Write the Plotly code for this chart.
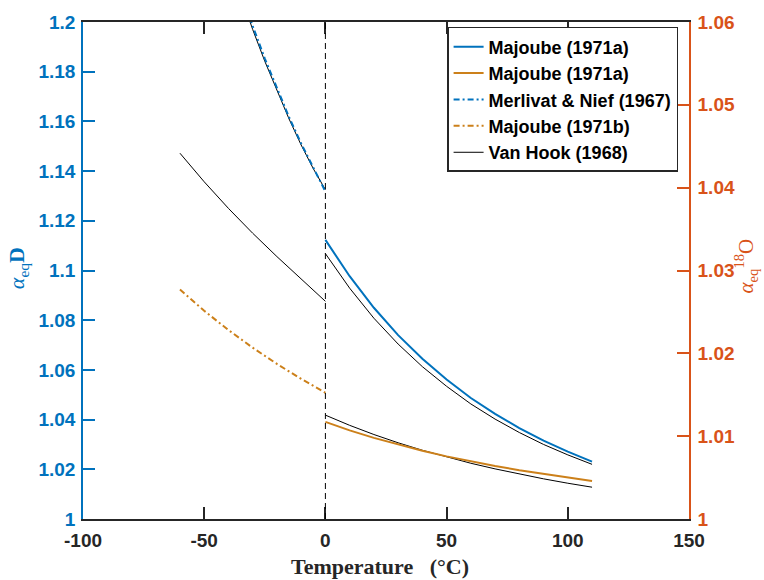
import plotly.graph_objects as go

# ---------------- data ----------------
# liquid-vapour, 0..110 °C
T_liq = [0, 10, 20, 30, 40, 50, 60, 70, 80, 90, 100, 110]
majoube_D_liq = [1.1123, 1.0977, 1.0850, 1.0740, 1.0645, 1.0561,
                 1.0487, 1.0423, 1.0366, 1.0315, 1.0271, 1.0231]
majoube_O18_liq = [1.01172, 1.01070, 1.00979, 1.00897, 1.00823, 1.00756,
                   1.00695, 1.00640, 1.00589, 1.00543, 1.00500, 1.00460]
vanhook_D_liq = [1.1068, 1.0929, 1.0808, 1.0704, 1.0613, 1.0534,
                 1.0463, 1.0402, 1.0348, 1.0300, 1.0258, 1.0220]
vanhook_O18_liq = [1.01254, 1.01131, 1.01020, 1.00920, 1.00830, 1.00748,
                   1.00673, 1.00605, 1.00542, 1.00485, 1.00432, 1.00384]

# ice-vapour
T_ice_D = [-35, -30, -25, -20, -15, -10, -5, 0]
merlivat_D_ice = [1.2125, 1.1984, 1.1853, 1.1731, 1.1617, 1.1511, 1.1412, 1.1318]
vanhook_D_ice = [1.2110, 1.1970, 1.1842, 1.1722, 1.1610, 1.1505, 1.1410, 1.1325]

T_ice = [-60, -50, -40, -30, -20, -10, 0]
majoube_O18_ice = [1.0277, 1.02514, 1.02281, 1.02068, 1.01872, 1.01691, 1.01524]
vanhook_ice_lower = [1.1472, 1.1357, 1.1250, 1.1150, 1.1056, 1.0964, 1.0876]

phase_boundary_T = 0

x_ticks = [-100, -50, 0, 50, 100, 150]
x_ticktext = ["-100", "-50", "0", "50", "100", "150"]
yD_ticks = [1.00, 1.02, 1.04, 1.06, 1.08, 1.10, 1.12, 1.14, 1.16, 1.18, 1.20]
yD_ticktext = ["1", "1.02", "1.04", "1.06", "1.08", "1.1", "1.12", "1.14", "1.16", "1.18", "1.2"]
yO_ticks = [1.00, 1.01, 1.02, 1.03, 1.04, 1.05, 1.06]
yO_ticktext = ["1", "1.01", "1.02", "1.03", "1.04", "1.05", "1.06"]

# ---------------- styles ----------------
BLUE = "#0072BD"
ORANGE_AX = "#D95319"
ORANGE = "#CC801A"
DARK = "#262626"
SANS = "Liberation Sans, Arial, sans-serif"
SERIF = "Liberation Serif, Times New Roman, serif"
DASHDOT = "6px,3px,2px,3px"

fig = go.Figure()

# Van Hook (black, thin) drawn first so coloured lines sit on top
fig.add_trace(go.Scatter(x=T_ice, y=vanhook_ice_lower, mode="lines",
                         line=dict(color="black", width=1),
                         name="Van Hook (1968)", legendrank=5, showlegend=True))
fig.add_trace(go.Scatter(x=T_ice_D, y=vanhook_D_ice, mode="lines",
                         line=dict(color="black", width=1), showlegend=False))
fig.add_trace(go.Scatter(x=T_liq, y=vanhook_D_liq, mode="lines",
                         line=dict(color="black", width=1), showlegend=False))

fig.add_trace(go.Scatter(x=T_liq, y=majoube_D_liq, mode="lines",
                         line=dict(color=BLUE, width=2),
                         name="Majoube (1971a)", legendrank=1))
fig.add_trace(go.Scatter(x=T_ice_D, y=merlivat_D_ice, mode="lines",
                         line=dict(color=BLUE, width=2, dash=DASHDOT),
                         name="Merlivat & Nief (1967)", legendrank=3))

fig.add_trace(go.Scatter(x=T_liq, y=vanhook_O18_liq, mode="lines", yaxis="y2",
                         line=dict(color="black", width=1), showlegend=False))
fig.add_trace(go.Scatter(x=T_liq, y=majoube_O18_liq, mode="lines", yaxis="y2",
                         line=dict(color=ORANGE, width=2),
                         name="Majoube (1971a)", legendrank=2))
fig.add_trace(go.Scatter(x=T_ice, y=majoube_O18_ice, mode="lines", yaxis="y2",
                         line=dict(color=ORANGE, width=2, dash=DASHDOT),
                         name="Majoube (1971b)", legendrank=4))

fig.add_vline(x=phase_boundary_T, line=dict(color="black", width=1, dash="6px,4px"))

fig.update_layout(
    width=764, height=580,
    margin=dict(l=83, r=75, t=13, b=61),
    paper_bgcolor="white", plot_bgcolor="white",
    showlegend=True,
    legend=dict(x=0.982, xanchor="right", y=0.99, yanchor="top",
                bgcolor="white", bordercolor=DARK, borderwidth=1.5,
                font=dict(family=SANS, size=18, color="black", weight="bold"),
                itemwidth=30, tracegroupgap=0),
    xaxis=dict(range=[-100, 150], tickvals=x_ticks, ticktext=x_ticktext,
               ticks="inside", ticklen=12,
               tickwidth=1.5, tickcolor=DARK, showline=True, linecolor=DARK,
               linewidth=1.5, mirror="ticks", showgrid=False, zeroline=False,
               ticklabelstandoff=3,
               tickfont=dict(family=SANS, size=19, color=DARK, weight="bold")),
    yaxis=dict(range=[1, 1.2], tickvals=yD_ticks, ticktext=yD_ticktext,
               ticks="inside", ticklen=12, tickwidth=1.5, tickcolor=BLUE,
               showline=True, linecolor=BLUE, linewidth=1.5, showgrid=False,
               zeroline=False, ticklabelstandoff=2,
               tickfont=dict(family=SANS, size=19, color=BLUE, weight="bold")),
    yaxis2=dict(range=[1, 1.06], tickvals=yO_ticks, ticktext=yO_ticktext,
                overlaying="y", side="right", anchor="x",
                ticks="inside", ticklen=12, tickwidth=1.5, tickcolor=ORANGE_AX,
                showline=True, linecolor=ORANGE_AX, linewidth=1.5, showgrid=False,
                zeroline=False, ticklabelstandoff=3,
                tickfont=dict(family=SANS, size=19, color=ORANGE_AX, weight="bold")),
)

fig.add_annotation(text="<b>Temperature\u00a0\u00a0\u00a0(°C)</b>",
                   xref="paper", yref="paper", x=0.49, y=-0.095,
                   xanchor="center", yanchor="middle", showarrow=False,
                   font=dict(family=SERIF, size=22, color=DARK))
fig.add_annotation(text="<i>α</i><sub>eq</sub><b>D</b>",
                   xref="paper", yref="paper", x=-0.107, y=0.505,
                   xanchor="center", yanchor="middle", showarrow=False,
                   textangle=-90,
                   font=dict(family=SERIF, size=22, color=BLUE))
fig.add_annotation(text="<i>α</i><sub>eq</sub><sup>18</sup>O",
                   xref="paper", yref="paper", x=1.094, y=0.51,
                   xanchor="center", yanchor="middle", showarrow=False,
                   textangle=-90,
                   font=dict(family=SERIF, size=21, color=ORANGE_AX))

fig.write_html(
    "out.html",
    config={"displayModeBar": False},
    post_script="document.body.style.margin='0px';document.body.style.padding='0px';"
                "document.body.style.overflow='hidden';",
)
